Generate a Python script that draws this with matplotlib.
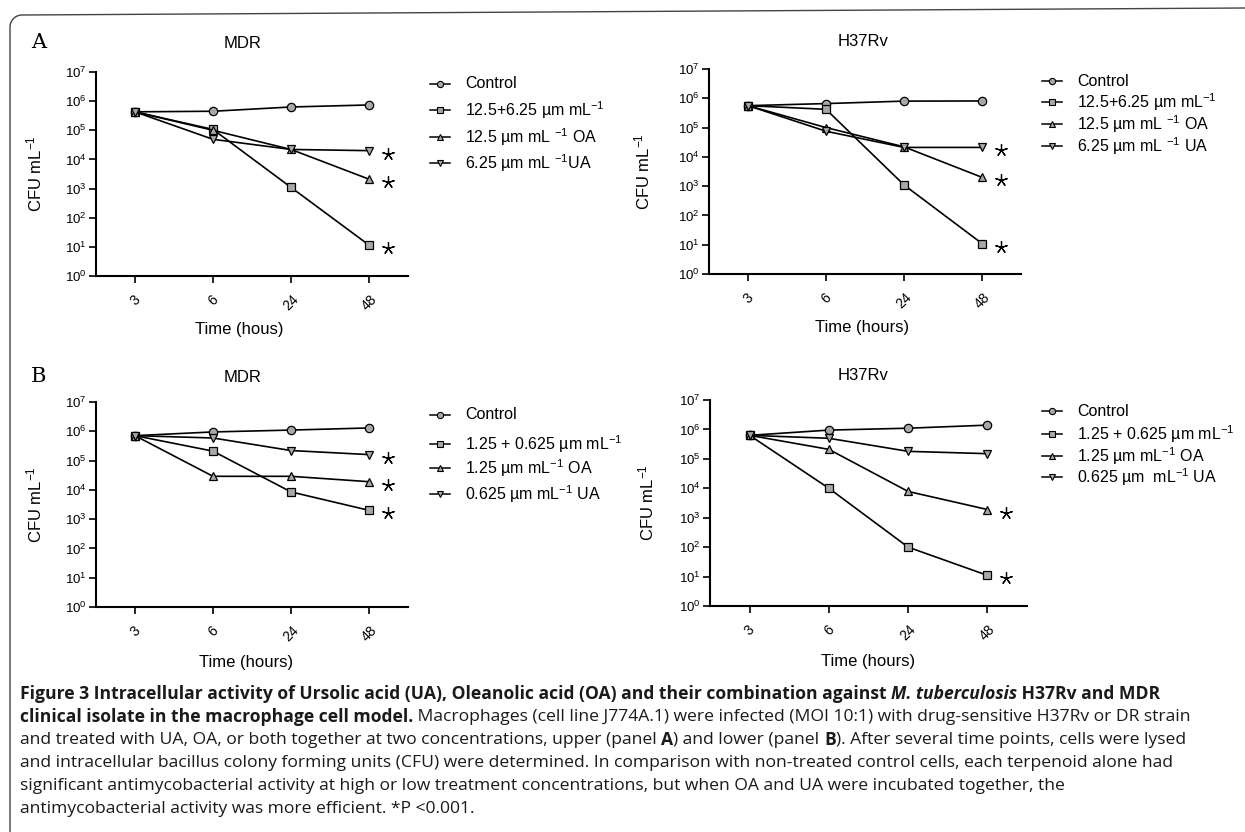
import matplotlib
matplotlib.use("Agg")
import numpy as np
import matplotlib.pyplot as plt
from matplotlib.lines import Line2D
from matplotlib.transforms import ScaledTranslation
from matplotlib.ticker import LogLocator, NullLocator

plt.rcParams["font.family"] = ["Liberation Sans", "DejaVu Sans"]
plt.rcParams["mathtext.fontset"] = "custom"
plt.rcParams["mathtext.rm"] = "Liberation Sans"
plt.rcParams["mathtext.it"] = "Liberation Sans:italic"
plt.rcParams["mathtext.bf"] = "Liberation Sans:bold"

# ---- data (CFU per mL) -----------------------------------------------------
times = ["3", "6", "24", "48"]

a_mdr_control = [4.3e5, 4.5e5, 6.3e5, 7.4e5]
a_mdr_combo = [4.3e5, 1.07e5, 1.1e3, 1.15e1]
a_mdr_oa = [4.3e5, 1.0e5, 2.2e4, 2.1e3]
a_mdr_ua = [4.3e5, 4.9e4, 2.2e4, 2.0e4]

a_h37_control = [5.6e5, 6.6e5, 8.0e5, 8.1e5]
a_h37_combo = [5.6e5, 4.2e5, 1.1e3, 1.1e1]
a_h37_oa = [5.6e5, 1.0e5, 2.2e4, 2.0e3]
a_h37_ua = [5.6e5, 7.5e4, 2.1e4, 2.1e4]

b_mdr_control = [7.1e5, 9.5e5, 1.1e6, 1.3e6]
b_mdr_combo = [7.1e5, 2.1e5, 8.5e3, 2.0e3]
b_mdr_oa = [7.1e5, 2.9e4, 2.9e4, 1.9e4]
b_mdr_ua = [7.1e5, 5.9e5, 2.2e5, 1.6e5]

b_h37_control = [6.3e5, 9.5e5, 1.1e6, 1.4e6]
b_h37_combo = [6.3e5, 1.0e4, 1.0e2, 1.1e1]
b_h37_oa = [6.3e5, 2.1e5, 7.8e3, 1.9e3]
b_h37_ua = [6.3e5, 5.0e5, 1.8e5, 1.5e5]

labels_a_left = ["Control", "12.5+6.25 µm mL$^{-1}$", "12.5 µm mL $^{-1}$ OA",
                 "6.25 µm mL $^{-1}$UA"]
labels_a_right = ["Control", "12.5+6.25 µm mL$^{-1}$", "12.5 µm mL $^{-1}$ OA",
                  "6.25 µm mL $^{-1}$ UA"]
labels_b_left = ["Control", "1.25 + 0.625 µm mL$^{-1}$", "1.25 µm mL$^{-1}$ OA",
                 "0.625 µm mL$^{-1}$ UA"]
labels_b_right = ["Control", "1.25 + 0.625 µm mL$^{-1}$", "1.25 µm mL$^{-1}$ OA",
                  "0.625 µm  mL$^{-1}$ UA"]

# which series carry a significance star (control, combo, OA, UA)
stars_a_mdr = [False, True, True, True]
stars_a_h37 = [False, True, True, True]
stars_b_mdr = [False, True, True, True]
stars_b_h37 = [False, True, True, False]

MARKERS = ["o", "s", "^", "v"]
MFC = "#a8a8a8"

W, H = 1245, 832
fig = plt.figure(figsize=(W / 100, H / 100), dpi=100)


def fx(px):
    return px / W


def fy(py):
    return 1 - py / H


def panel(x0, ytop, x1, ybot, series, stars, title, title_x, title_y,
          xlabel, xl_xy, ylab_x, legend_x, legend_rows, labels):
    ax = fig.add_axes([fx(x0), fy(ybot), fx(x1 - x0), (ybot - ytop) / H])
    xs = np.arange(len(times))
    off = ScaledTranslation(0.19, -0.03, fig.dpi_scale_trans)
    for vals, mk, st in zip(series, MARKERS, stars):
        ax.plot(xs, vals, color="black", lw=1.2, marker=mk, ms=6,
                mfc=MFC, mec="black", mew=0.9, zorder=3, clip_on=False)
        if st:
            ax.plot([xs[-1]], [vals[-1]], marker=(5, 2, 0), ms=9, mew=0.9,
                    color="black", transform=ax.transData + off, clip_on=False)
    ax.set_yscale("log")
    ax.set_ylim(1, 1e7)
    ax.set_xlim(-0.5, 3.5)
    ax.yaxis.set_major_locator(LogLocator(base=10, numticks=10))
    ax.yaxis.set_minor_locator(NullLocator())
    ax.set_xticks(xs)
    ax.set_xticklabels(times, rotation=45, ha="center", va="top")
    for s in ["top", "right"]:
        ax.spines[s].set_visible(False)
    for s in ["left", "bottom"]:
        ax.spines[s].set_linewidth(1.5)
    ax.tick_params(axis="both", direction="out", length=5, width=1.2)
    ax.tick_params(axis="y", labelsize=9.5, pad=2)
    ax.tick_params(axis="x", labelsize=10, pad=7)
    ax.set_ylabel("CFU mL$^{-1}$", fontsize=12)
    ax.yaxis.set_label_coords(ylab_x, 0.5)
    ax.set_xlabel(xlabel, fontsize=12)
    ax.xaxis.set_label_coords(*xl_xy)
    fig.text(fx(title_x), fy(title_y), title, ha="center", va="center", fontsize=12)

    # legend drawn row by row
    for (ly, lab, mk) in zip(legend_rows, labels, MARKERS):
        fig.add_artist(Line2D([fx(legend_x), fx(legend_x + 20)], [fy(ly), fy(ly)],
                              transform=fig.transFigure, color="black", lw=1.1))
        fig.add_artist(Line2D([fx(legend_x + 10)], [fy(ly)], transform=fig.transFigure,
                              marker=mk, ms=4.5, mfc=MFC, mec="black", mew=0.8))
        fig.text(fx(legend_x + 35), fy(ly), lab, ha="left", va="center", fontsize=11.5)
    return ax


panel(96, 72, 408, 276,
      [a_mdr_control, a_mdr_combo, a_mdr_oa, a_mdr_ua], stars_a_mdr,
      "MDR", 243, 43, "Time (hous)", (0.46, -0.225), -0.165,
      430, [84, 110, 137, 163], labels_a_left)
panel(709, 69, 1021, 274,
      [a_h37_control, a_h37_combo, a_h37_oa, a_h37_ua], stars_a_h37,
      "H37Rv", 863, 42, "Time (hours)", (0.49, -0.225), -0.18,
      1042, [81, 102, 124, 146], labels_a_right)
panel(96, 402, 408, 607,
      [b_mdr_control, b_mdr_combo, b_mdr_oa, b_mdr_ua], stars_b_mdr,
      "MDR", 243, 377, "Time (hours)", (0.48, -0.234), -0.165,
      430, [415, 444, 468, 494], labels_b_left)
panel(710, 400, 1027, 606,
      [b_h37_control, b_h37_combo, b_h37_oa, b_h37_ua], stars_b_h37,
      "H37Rv", 863, 376, "Time (hours)", (0.5, -0.234), -0.17,
      1042, [411, 434, 456, 477], labels_b_right)

# panel letters
fig.text(fx(39), fy(43), "A", fontsize=15, family="DejaVu Serif", ha="center", va="center")
fig.text(fx(39), fy(377), "B", fontsize=15, family="DejaVu Serif", ha="center", va="center")

# page frame (top and left rule with a rounded corner)
t = np.linspace(0, np.pi / 2, 12)
cx, cy, r = 22, 27, 12
arc_x = list(cx - r * np.cos(t))
arc_y = list(cy - r * np.sin(t))
frame_x = [10] + arc_x + [1245]
frame_y = [832] + arc_y + [8]
fig.add_artist(Line2D([fx(v) for v in frame_x], [fy(v) for v in frame_y],
                      transform=fig.transFigure, color="#444444", lw=1.0))

# ---- caption -------------------------------------------------------------
CAP_FONT = "Open Sans"
renderer = fig.canvas.get_renderer()


def rich_line(x_px, y_px, parts, size):
    x = x_px
    for txt, weight, style in parts:
        t = fig.text(fx(x), fy(y_px), txt, fontsize=size, family=CAP_FONT,
                     fontweight=weight, fontstyle=style, ha="left", va="center",
                     color="#1a1a1a")
        x += t.get_window_extent(renderer).width
    return x


cap_lines = [
    [("Figure 3 Intracellular activity of Ursolic acid (UA), Oleanolic acid (OA) "
      "and their combination against ", "bold", "normal"),
     ("M. tuberculosis", "bold", "italic"),
     (" H37Rv and MDR", "bold", "normal")],
    [("clinical isolate in the macrophage cell model.", "bold", "normal"),
     (" Macrophages (cell line J774A.1) were infected (MOI 10:1) with drug-sensitive "
      "H37Rv or DR strain", "normal", "normal")],
    [("and treated with UA, OA, or both together at two concentrations, upper (panel ",
      "normal", "normal"),
     ("A", "bold", "normal"),
     (") and lower (panel ", "normal", "normal"),
     ("B", "bold", "normal"),
     ("). After several time points, cells were lysed", "normal", "normal")],
    [("and intracellular bacillus colony forming units (CFU) were determined. In "
      "comparison with non-treated control cells, each terpenoid alone had",
      "normal", "normal")],
    [("significant antimycobacterial activity at high or low treatment concentrations, "
      "but when OA and UA were incubated together, the", "normal", "normal")],
    [("antimycobacterial activity was more efficient. *P <0.001.", "normal", "normal")],
]

# size the caption so that its first line spans about as wide as in the original
probe = fig.text(0, 0, "".join(p[0] for p in cap_lines[0]), fontsize=10,
                 family=CAP_FONT, fontweight="bold")
cap_size = 10 * 1146 / probe.get_window_extent(renderer).width
probe.remove()

cap_y = [694, 717, 740, 763, 786, 809]
for parts, yy in zip(cap_lines, cap_y):
    rich_line(20, yy, parts, cap_size)

fig.savefig("out.png", dpi=100, facecolor="white")
